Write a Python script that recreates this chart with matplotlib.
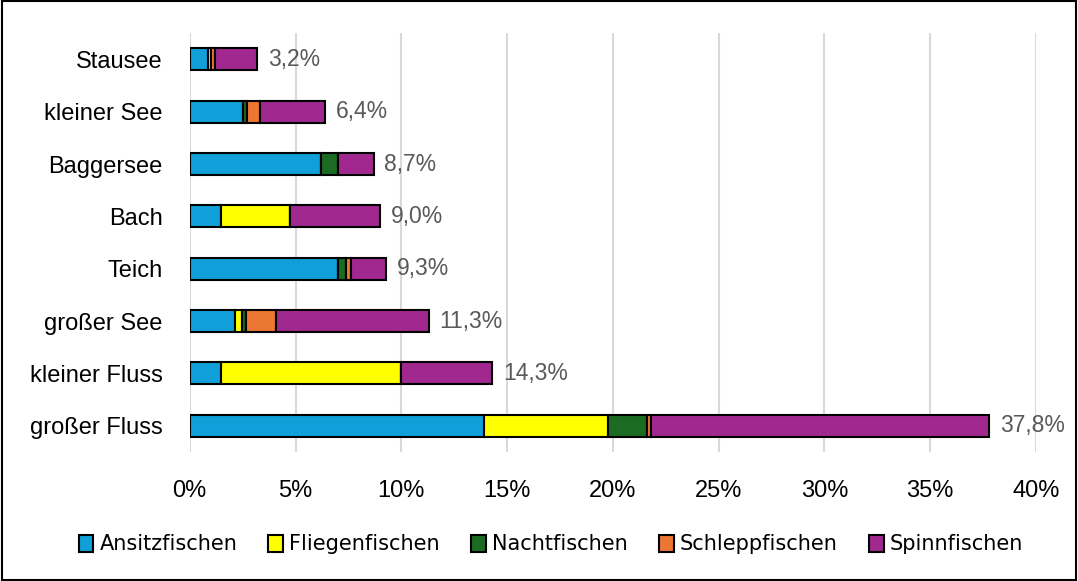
import numpy as np
import matplotlib.pyplot as plt
from matplotlib.patches import Patch, Rectangle
from matplotlib.ticker import FuncFormatter

categories = ['Stausee', 'kleiner See', 'Baggersee', 'Bach', 'Teich',
              'großer See', 'kleiner Fluss', 'großer Fluss']
ansitz   = [0.85, 2.5, 6.2, 1.5, 7.0, 2.15, 1.5, 13.9]
fliegen  = [0.15, 0.0, 0.0, 3.25, 0.0, 0.3, 8.5, 5.85]
nacht    = [0.0, 0.2, 0.8, 0.0, 0.4, 0.2, 0.0, 1.85]
schlepp  = [0.2, 0.6, 0.0, 0.0, 0.2, 1.45, 0.0, 0.2]
spinn    = [2.0, 3.1, 1.7, 4.25, 1.7, 7.2, 4.3, 16.0]
totals   = [3.2, 6.4, 8.7, 9.0, 9.3, 11.3, 14.3, 37.8]

series = [('Ansitzfischen', ansitz, '#109fd8'),
          ('Fliegenfischen', fliegen, '#ffff00'),
          ('Nachtfischen', nacht, '#1b6b22'),
          ('Schleppfischen', schlepp, '#ec7634'),
          ('Spinnfischen', spinn, '#a0288f')]

plt.rcParams['font.family'] = ['Liberation Sans', 'DejaVu Sans']

fig = plt.figure(figsize=(10.78, 5.81), dpi=100)
ax = fig.add_axes([0.176, 0.222, 0.785, 0.721])

# Stausee oben
y = np.arange(len(categories))[::-1]
left = np.zeros(len(categories))
for name, vals, col in series:
    vals = np.array(vals)
    ax.barh(y, vals, left=left, height=0.42, color=col,
            edgecolor='black', linewidth=1.5, label=name, zorder=3)
    left += vals

for yi, tot in zip(y, totals):
    ax.text(tot + 0.5, yi, f'{tot:.1f}%'.replace('.', ','), va='center',
            ha='left', fontsize=16.5, color='#595959')

ax.set_xlim(0, 40)
ax.set_ylim(-0.5, 7.5)
ax.set_xticks(np.arange(0, 41, 5))
ax.xaxis.set_major_formatter(FuncFormatter(lambda v, p: f'{v:.0f}%'))
ax.set_yticks(y)
ax.set_yticklabels(categories)
ax.tick_params(axis='both', length=0, labelsize=17, colors='black')
ax.tick_params(axis='x', pad=20)
ax.tick_params(axis='y', pad=19.5)
ax.grid(axis='x', color='#d9d9d9', linewidth=1.5, zorder=0)
for s in ax.spines.values():
    s.set_visible(False)

handles = [Patch(facecolor=c, edgecolor='black', linewidth=1.5, label=n)
           for n, _, c in series]
fig.legend(handles=handles, loc='center', bbox_to_anchor=(0.511, 0.063),
           ncol=5, frameon=False, handlelength=0.7, handleheight=0.9,
           handletextpad=0.3, columnspacing=1.5,
           prop={'family': ['Liberation Sans Narrow', 'DejaVu Sans'],
                 'size': 15})

fig.patches.append(Rectangle((0.002, 0.002), 0.996, 0.996, transform=fig.transFigure,
                             fill=False, edgecolor='black', linewidth=1.5))

fig.savefig('out.png', dpi=100)
